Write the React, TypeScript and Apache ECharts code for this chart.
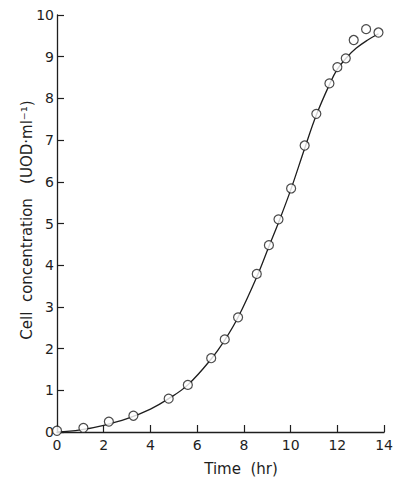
import React, { useEffect, useRef } from "react";
import * as echarts from "echarts";

const obsTime = [0, 1.13, 2.22, 3.27, 4.78, 5.6, 6.6, 7.18, 7.75, 8.55, 9.07, 9.48, 10.02, 10.6, 11.1, 11.66, 12.0, 12.36, 12.7, 13.23, 13.76];
const obsConc = [0.03, 0.1, 0.25, 0.39, 0.8, 1.13, 1.77, 2.22, 2.75, 3.79, 4.48, 5.1, 5.84, 6.87, 7.63, 8.36, 8.75, 8.96, 9.4, 9.66, 9.58];

const fitTime = [0, 1, 2, 3, 4, 4.78, 5.6, 6.6, 7.2, 7.75, 8.55, 9.07, 9.5, 10, 10.6, 11.1, 11.66, 12, 12.4, 12.8, 13.3, 13.76];
const fitConc = [0, 0.05, 0.16, 0.32, 0.55, 0.8, 1.13, 1.75, 2.22, 2.75, 3.72, 4.45, 5.05, 5.8, 6.8, 7.6, 8.33, 8.7, 8.98, 9.2, 9.4, 9.55];

const xTitle = "Time  (hr)";
const yTitle = "Cell  concentration   (UOD\u00b7ml\u207b\u00b9)";

const FONT = "DejaVu Sans";
const INK = "#1e1e1e";

export default function App() {
  const ref = useRef<HTMLDivElement>(null);
  useEffect(() => {
    if (!ref.current) return;
    const chart = echarts.init(ref.current, null, { renderer: "svg" });
    chart.setOption({
      animation: false,
      backgroundColor: "#ffffff",
      grid: { left: 57, right: 5, top: 15, bottom: 50, containLabel: false },
      xAxis: {
        type: "value",
        min: 0,
        max: 14,
        interval: 2,
        axisLine: { show: true, lineStyle: { color: INK, width: 1.3 } },
        axisTick: { show: true, inside: true, length: 7, lineStyle: { color: INK, width: 1.2 } },
        axisLabel: { fontFamily: FONT, fontSize: 14, color: INK, margin: 6 },
        splitLine: { show: false },
      },
      yAxis: {
        type: "value",
        min: 0,
        max: 10,
        interval: 1,
        axisLine: { show: true, lineStyle: { color: INK, width: 1.3 } },
        axisTick: { show: true, inside: true, length: 7, lineStyle: { color: INK, width: 1.2 } },
        axisLabel: { fontFamily: FONT, fontSize: 14, color: INK, margin: 3 },
        splitLine: { show: false },
      },
      graphic: [
        {
          type: "text",
          x: 241,
          y: 469,
          style: {
            text: xTitle,
            fontFamily: FONT,
            fontSize: 15,
            fill: INK,
            align: "center",
            verticalAlign: "middle",
          },
        },
        {
          type: "text",
          x: 27,
          y: 220,
          rotation: Math.PI / 2,
          style: {
            text: yTitle,
            fontFamily: FONT,
            fontSize: 15,
            fill: INK,
            align: "center",
            verticalAlign: "middle",
          },
        },
      ],
      series: [
        {
          type: "line",
          data: fitTime.map((t, i) => [t, fitConc[i]]),
          smooth: 0.4,
          showSymbol: false,
          lineStyle: { color: INK, width: 1.3 },
          z: 2,
        },
        {
          type: "scatter",
          data: obsTime.map((t, i) => [t, obsConc[i]]),
          symbol: "circle",
          symbolSize: 9,
          itemStyle: { color: "#ffffff", borderColor: INK, borderWidth: 1.2 },
          z: 3,
        },
      ],
    });
    return () => chart.dispose();
  }, []);
  return <div ref={ref} style={{ width: 396, height: 482, position: "absolute", left: 0, top: 0 }} />;
}
